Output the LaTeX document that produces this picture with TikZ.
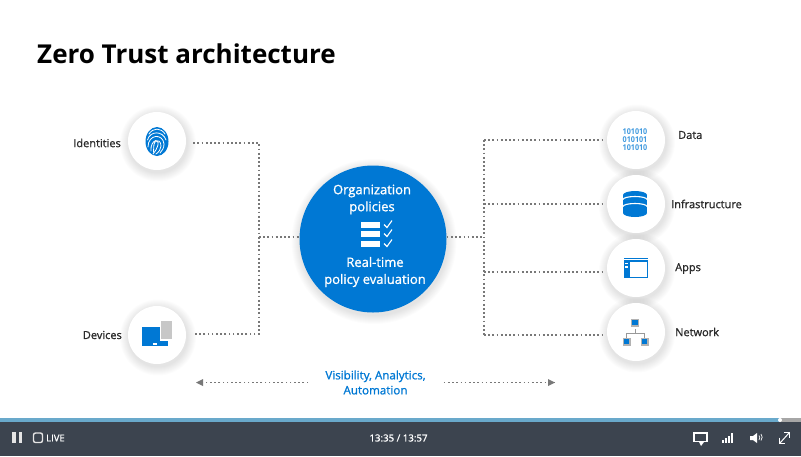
\documentclass[tikz,border=0pt]{standalone}
\usepackage{fontspec}
\setmainfont{Open Sans}
\newfontfamily\boldish[FakeBold=1.1]{Open Sans}
\usetikzlibrary{arrows.meta}
\definecolor{msblue}{HTML}{0078D4}
\definecolor{bardark}{HTML}{3C444F}
\definecolor{barblue}{HTML}{69A9CB}
\definecolor{dotgray}{HTML}{787878}
\definecolor{labelc}{HTML}{2A2A2A}
\tikzset{
  dotline/.style={draw=dotgray,line width=1.9pt,dash pattern=on 1.7pt off 2.5pt},
  badge/.style={circle,fill=white,minimum size=58pt,inner sep=0pt},
  lab/.style={font=\fontsize{11}{13}\boldish,text=labelc},
  hubtxt/.style={font=\fontsize{13}{17}\boldish,text=white,align=center,inner sep=0pt},
  iconline/.style={draw=white,line width=0.8pt,line cap=round},
}
\newcommand{\softshadow}[3]{% x y r
  \foreach \k in {9,8,...,1}{
    \fill[black,opacity=0.011] (#1+1,#2+2.5) circle ({#3+\k*1.0});
  }
}
\begin{document}
\begin{tikzpicture}[x=1pt,y=-1pt]
\useasboundingbox (0,0) rectangle (801,456);
\fill[white] (0,0) rectangle (801,456);

% title
\node[anchor=west,inner sep=0pt,font=\fontsize{26}{32}\selectfont\bfseries,text=black] (title) at (37,54) {Zero Trust architecture};

% shadows
\softshadow{157}{141}{29}
\softshadow{157}{335}{29}
\softshadow{636}{140}{29}
\softshadow{636}{204}{29}
\softshadow{636}{268}{29}
\softshadow{636}{332}{29}
\softshadow{373}{239}{73.5}

% junction coordinates
\coordinate (jl1) at (259,143);
\coordinate (jlm) at (259,237);
\coordinate (jl2) at (259,334);
\coordinate (jr1) at (484,140);
\coordinate (jr2) at (484,204);
\coordinate (jr3) at (484,237);
\coordinate (jr4) at (484,272);
\coordinate (jr5) at (484,335);

% badges
\node[badge] (ident) at (157,141) {};
\node[badge] (devic) at (157,335) {};
\node[badge] (datab) at (636,140) {};
\node[badge] (infra) at (636,204) {};
\node[badge] (appsb) at (636,268) {};
\node[badge] (netwb) at (636,332) {};
\node[circle,fill=msblue,minimum size=147pt,inner sep=0pt] (hub) at (373,239) {};

% connectors
\draw[dotline,shorten <=7pt,shorten >=7pt] (ident.east |- jl1) -- (jl1) -- (jl2) -- (devic.east |- jl2);
\draw[dotline] (jlm) -- (hub.west |- jlm);
\draw[dotline] (hub.east |- jr3) -- (jr3);
\draw[dotline,shorten >=2pt] (jr1) -- (datab.west |- jr1);
\draw[dotline,shorten >=2pt] (jr2) -- (infra.west |- jr2);
\draw[dotline,shorten >=2pt] (jr4) -- (appsb.west |- jr4);
\draw[dotline,shorten >=2pt] (jr5) -- (netwb.west |- jr5);
\draw[dotline] (jr1) -- (jr5);

% side labels
\node[lab,anchor=east,inner sep=0pt] (tident) at (121,143) {Identities};
\node[lab,anchor=east,inner sep=0pt] (tdevic) at (122,335) {Devices};
\node[lab,anchor=west,inner sep=0pt] (tdata) at (678,135) {Data};
\node[lab,anchor=west,inner sep=0pt] (tinfra) at (671,204) {Infrastructure};
\node[lab,anchor=west,inner sep=0pt] (tapps) at (675,268.5) {Apps};
\node[lab,anchor=west,inner sep=0pt] (tnet) at (675,332) {Network};

% hub text
\node[hubtxt] (hubt1) at (372,199.5) {Organization\\policies};
\node[hubtxt] (hubt2) at (375,272) {Real-time\\policy evaluation};
\foreach \yy in {225,234,244}{
  \fill[white] (361,\yy-2.8) rectangle (380,\yy+2.8);
  \draw[white,line width=1.1pt] (384,\yy-0.5) -- (387,\yy+2.5) -- (392,\yy-4.5);
}

% fingerprint icon
\fill[msblue] (157,141.5) ellipse (11.5 and 14.5);
\draw[iconline] (149,134) .. controls (153,127.5) and (161,127.5) .. (165,134);
\draw[iconline] (147.5,140) .. controls (150,130.5) and (163,130.5) .. (166,140);
\draw[iconline] (148,147) .. controls (148,134) and (163,133) .. (164,144) .. controls (164,148) and (162,151) .. (160,153);
\draw[iconline] (151,151) .. controls (150,139) and (161,137) .. (161,146) .. controls (161,149) and (159,152) .. (156,154);
\draw[iconline] (153.5,152) .. controls (154,147) and (153,141) .. (157,141) .. controls (159.5,142) and (158,148) .. (153,154);

% device icon
\fill[black!22] (161,321) rectangle (172,339);
\fill[white] (141,326) rectangle (160.5,347.5);
\fill[white] (141,339.5) rectangle (169.5,347.5);
\fill[msblue] (142,327) rectangle (160,341);
\fill[msblue] (142,341) rectangle (168,346);
\fill[white] (153,343) rectangle (157,344.5);

% data icon
\node[font=\fontsize{8}{7.9}\selectfont\bfseries,text=msblue!75!white,align=center,inner sep=0pt,xscale=0.9] (bits) at (635,139.5) {101010\\010101\\101010};

% database icon
\fill[msblue] (635,195) ellipse (12 and 4);
\fill[msblue] (623,195) rectangle (647,213);
\fill[msblue] (635,213) ellipse (12 and 4);
\draw[white,line width=1.1pt] (623,199.5) arc (180:360:12 and 3);
\draw[white,line width=1.1pt] (623,206.5) arc (180:360:12 and 3);

% apps icon
\fill[msblue] (624,258) rectangle (648,259);
\fill[msblue] (624,260) rectangle (648,277.5);
\fill[white] (630,262) rectangle (647,276.5);
\fill[white] (625,262.5) rectangle (628,264);
\fill[white] (625,266) rectangle (628,267.5);

% network icon
\draw[black!40,line width=0.9pt] (635,329) -- (635,333) (626.5,338) -- (626.5,333) -- (644.5,333) -- (644.5,338);
\foreach \xx/\yy in {635/322.5,626.5/341.5,644.5/341.5}{
  \fill[black!30] (\xx-4,\yy-4) rectangle (\xx+4,\yy+4);
  \fill[msblue] (\xx-2.6,\yy-2.6) rectangle (\xx+2.6,\yy+2.6);
}

% bottom caption and arrows
\node[font=\fontsize{11.6}{15}\boldish,text=msblue,align=center,inner sep=0pt] (vis) at (375.5,382.5) {Visibility, Analytics,\\Automation};
\coordinate (al) at (196,382.5);
\coordinate (ar) at (555,382.5);
\draw[dotline] (vis.west) ++(-17,0) -- (al);
\draw[dotline] (vis.east) ++(18,0) -- (ar);
\fill[dotgray] (al) -- ++(7,-3.5) -- ++(0,7) -- cycle;
\fill[dotgray] (ar) -- ++(-7,-3.5) -- ++(0,7) -- cycle;

% player bar
\fill[bardark] (0,422) rectangle (801,456);
\fill[barblue] (0,418) rectangle (780,422);
\fill[black!35] (780,418) rectangle (801,422);
\fill[white] (780,420) circle (2);
\fill[white!90!black] (12,432) rectangle (16,443);
\fill[white!90!black] (18.5,432) rectangle (22,443);
\draw[white!90!black,line width=1.4pt,rounded corners=2pt] (33.5,433) rectangle (42.5,442.5);
\node[anchor=west,inner sep=0pt,text=white,font=\fontsize{9.5}{11}\boldish] (live) at (46,438) {LIVE};
\node[inner sep=0pt,text=white,font=\fontsize{9.7}{11}\boldish] (clock) at (398.5,438) {13:35 / 13:57};

% bubble
\fill[white] (693,432) rectangle (708,442);
\fill[white] (699,442) -- (704,442) -- (701,446) -- cycle;
\fill[bardark] (695,434) rectangle (706,440.5);
% bars
\fill[white] (722,440) rectangle (723.5,443);
\fill[white] (725,438) rectangle (726.5,443);
\fill[white] (728,435.5) rectangle (729.5,443);
\fill[white] (731,433) rectangle (733,443);
% speaker
\fill[white] (750,436) -- (753,436) -- (757,433) -- (757,443) -- (753,440) -- (750,440) -- cycle;
\draw[white,line width=0.7pt] (759,435.5) arc (-40:40:3.5);
\draw[white,line width=0.7pt] (761,434) arc (-40:40:5);
% expand
\draw[white,line width=1pt] (780,443) -- (789,433);
\draw[white,line width=1pt] (784,432.5) -- (789.5,432.5) -- (789.5,438);
\draw[white,line width=1pt] (779.5,437.5) -- (779.5,443.5) -- (785,443.5);
\end{tikzpicture}
\end{document}
